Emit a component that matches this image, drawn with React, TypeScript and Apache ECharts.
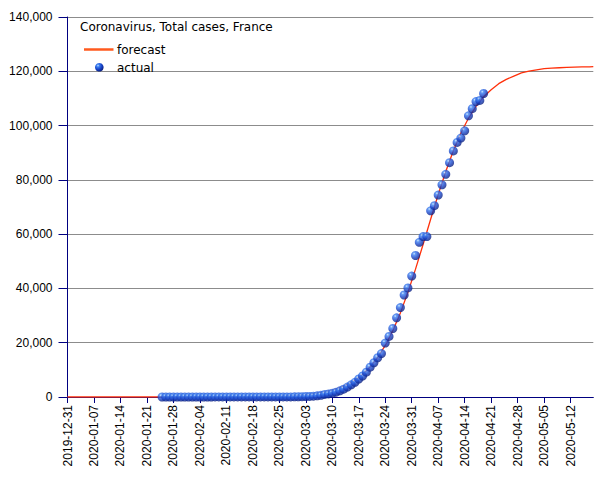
import React, { useEffect, useRef } from "react";
import * as echarts from "echarts";

// ---- data ----
const ORIGIN = "2019-12-31";
const axisMaxDate = "2020-05-18";

const xTickLabels = [
  "2019-12-31", "2020-01-07", "2020-01-14", "2020-01-21", "2020-01-28",
  "2020-02-04", "2020-02-11", "2020-02-18", "2020-02-25", "2020-03-03",
  "2020-03-10", "2020-03-17", "2020-03-24", "2020-03-31", "2020-04-07",
  "2020-04-14", "2020-04-21", "2020-04-28", "2020-05-05", "2020-05-12",
];

// actual: consecutive daily values starting at actualStart
const actualStart = "2020-01-25";
const actualValues = [
  // Jan 25 - Jan 31
  3, 3, 3, 4, 5, 5, 6,
  // Feb 1 - Feb 29
  6, 6, 6, 6, 6, 6, 6, 11, 11, 11, 11, 11, 11, 11, 12, 12, 12, 12, 12, 12,
  12, 12, 12, 12, 12, 14, 18, 38, 57,
  // Mar 1 - Mar 31
  100, 130, 191, 212, 285, 423, 613, 949, 1126, 1412, 1784, 2281, 2876, 3661,
  4499, 5423, 6633, 7730, 9134, 10995, 12612, 14459, 16018, 19856, 22302,
  25233, 29155, 32964, 37575, 40174, 44550,
  // Apr 1 - Apr 19
  52128, 56989, 59105, 59105, 68605, 70478, 74390, 78167, 82048, 86334, 90676,
  93790, 95403, 98076, 103573, 106206, 108847, 109252, 111821,
];

const forecastDates = [
  "2019-12-31", "2020-01-30", "2020-02-14", "2020-02-24", "2020-02-29",
  "2020-03-02", "2020-03-04", "2020-03-06", "2020-03-08", "2020-03-10",
  "2020-03-12", "2020-03-14", "2020-03-16", "2020-03-18", "2020-03-20",
  "2020-03-22", "2020-03-24", "2020-03-26", "2020-03-28", "2020-03-30",
  "2020-04-01", "2020-04-03", "2020-04-05", "2020-04-07", "2020-04-09",
  "2020-04-11", "2020-04-13", "2020-04-15", "2020-04-17", "2020-04-19",
  "2020-04-21", "2020-04-23", "2020-04-25", "2020-04-27", "2020-04-29",
  "2020-05-01", "2020-05-03", "2020-05-05", "2020-05-07", "2020-05-09",
  "2020-05-11", "2020-05-13", "2020-05-15", "2020-05-17", "2020-05-18",
];
const forecastValues = [
  0, 6, 57, 263, 565,
  766, 1038, 1407, 1905, 2575,
  3471, 4670, 6261, 8353, 11079,
  14584, 19001, 24448, 30990, 38598,
  47097, 56186, 65507, 74604, 83106,
  90712, 97250, 102700, 107120, 110620,
  113200, 115440, 117030, 118230, 119400,
  120050, 120550, 120950, 121150, 121300,
  121420, 121520, 121600, 121660, 121690,
];

const titleText = "Coronavirus, Total cases, France";
const legendNames = ["forecast", "actual"];

// ---- helpers ----
const DAY = 86400000;
const originMs = Date.parse(ORIGIN);
const dayIndex = (s: string) => Math.round((Date.parse(s) - originMs) / DAY);
const fmtDate = (d: number) =>
  new Date(originMs + Math.round(d) * DAY).toISOString().slice(0, 10);

const sphere = {
  type: "radial",
  x: 0.35,
  y: 0.3,
  r: 0.75,
  colorStops: [
    { offset: 0, color: "#c8e6ff" },
    { offset: 0.2, color: "#3f82f2" },
    { offset: 0.55, color: "#1a48cc" },
    { offset: 1, color: "#081a78" },
  ],
};

export default function App() {
  const ref = useRef<HTMLDivElement>(null);

  useEffect(() => {
    if (!ref.current) return;
    const chart = echarts.init(ref.current, undefined, { renderer: "svg" });

    const startDay = dayIndex(actualStart);
    const actualData = actualValues.map((v, i) => [startDay + i, v]);
    const forecastData = forecastDates.map((d, i) => [dayIndex(d), forecastValues[i]]);
    const xTickDays = xTickLabels.map(dayIndex);

    const axisColor = "#000080";
    const labelFont = "'Liberation Sans', Arial, sans-serif";
    const legendFont = "'DejaVu Sans', sans-serif";

    chart.setOption({
      animation: false,
      grid: { left: 67.5, right: 11.7, top: 17, bottom: 83 },
      xAxis: {
        type: "value",
        min: 0,
        max: dayIndex(axisMaxDate),
        interval: 7,
        axisLine: { show: true, lineStyle: { color: axisColor, width: 1 } },
        axisTick: {
          show: true,
          length: 6,
          customValues: xTickDays,
          lineStyle: { color: axisColor },
        },
        axisLabel: {
          customValues: xTickDays,
          rotate: 90,
          margin: 8,
          fontFamily: labelFont,
          fontSize: 12,
          color: "#000",
          formatter: (v: number) => fmtDate(v),
        },
        splitLine: { show: false },
      },
      yAxis: {
        type: "value",
        min: 0,
        max: 140000,
        interval: 20000,
        axisLine: { show: true, lineStyle: { color: axisColor, width: 1 } },
        axisTick: { show: true, length: 9, lineStyle: { color: axisColor } },
        axisLabel: {
          margin: 15,
          fontFamily: labelFont,
          fontSize: 12,
          color: "#000",
          formatter: (v: number) => v.toLocaleString("en-US"),
        },
        splitLine: { show: true, lineStyle: { color: "#8c8c8c", width: 1 } },
      },
      series: [
        {
          name: legendNames[0],
          type: "line",
          data: forecastData,
          symbol: "none",
          showSymbol: false,
          lineStyle: { color: "#ff300a", width: 1.3 },
          z: 3,
          silent: true,
        },
        {
          name: legendNames[1],
          type: "scatter",
          data: actualData,
          symbol: "circle",
          symbolSize: 9,
          itemStyle: { color: sphere },
          z: 4,
          silent: true,
        },
      ],
      graphic: [
        {
          type: "text",
          left: 80,
          top: 21,
          style: { text: titleText, font: `12px ${legendFont}`, fill: "#000" },
          z: 10,
        },
        {
          type: "line",
          shape: { x1: 84, y1: 49.5, x2: 113.5, y2: 49.5 },
          style: { stroke: "#ff5a1e", lineWidth: 2.5 },
          z: 10,
        },
        {
          type: "text",
          left: 117,
          top: 44,
          style: { text: legendNames[0], font: `12px ${legendFont}`, fill: "#000" },
          z: 10,
        },
        {
          type: "circle",
          shape: { cx: 99.3, cy: 67.3, r: 4.3 },
          style: { fill: sphere },
          z: 10,
        },
        {
          type: "text",
          left: 117,
          top: 62,
          style: { text: legendNames[1], font: `12px ${legendFont}`, fill: "#000" },
          z: 10,
        },
      ],
    });

    return () => chart.dispose();
  }, []);

  return <div ref={ref} style={{ width: 605, height: 480, position: "absolute", left: 0, top: 0 }} />;
}
